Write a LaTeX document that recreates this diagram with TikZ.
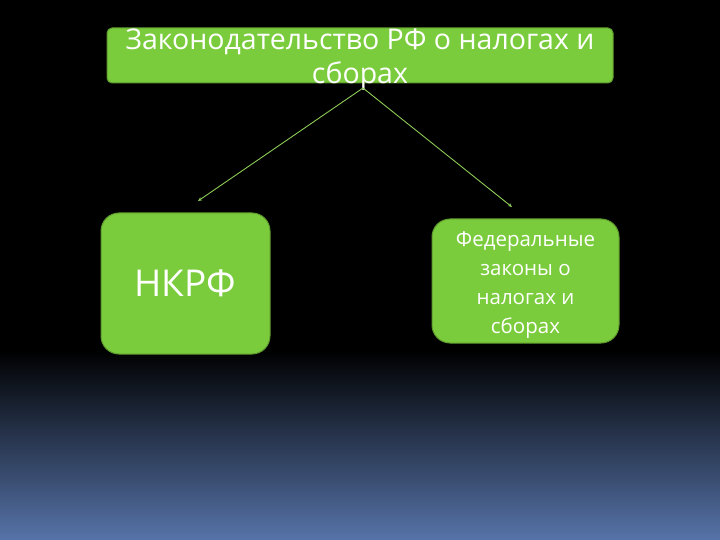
\documentclass[tikz,border=0pt]{standalone}
\usepackage{fontspec}
\setmainfont{Open Sans}
\usetikzlibrary{arrows.meta}
\definecolor{boxfill}{HTML}{7ACC3C}
\definecolor{boxline}{HTML}{5E9A2E}
\definecolor{linkc}{HTML}{8CCB55}
\definecolor{bottomblue}{HTML}{5673A8}
\tikzset{
  greenbox/.style={draw=boxline, line width=1pt, fill=boxfill, text=white, align=center, inner sep=0pt},
  link/.style={draw=linkc, line width=0.9pt, -{Stealth[length=4pt,width=3.5pt]}}
}
\begin{document}
\begin{tikzpicture}[x=1pt,y=-1pt]
\useasboundingbox (0,0) rectangle (720,540);
\fill[black] (0,0) rectangle (720,540);
\shade[top color=black, bottom color=bottomblue] (0,350) rectangle (720,540);
\node[greenbox, rounded corners=5pt, minimum width=506pt, minimum height=55pt] (top) at (360,55.5) {};
\node[text=white, font=\fontsize{28.5}{34}\selectfont, align=center, inner sep=0pt] (toptext) at (360,59.5) {Законодательство РФ о налогах и\\сборах};
\node[greenbox, rounded corners=18pt, minimum width=169pt, minimum height=141pt] (nk) at (185.5,283.5) {\fontsize{37}{40}\selectfont НКРФ};
\node[greenbox, rounded corners=18pt, minimum width=187pt, minimum height=124pt] (fz) at (525.5,281) {};
\node[text=white, font=\fontsize{20.5}{28.8}\selectfont, align=center, inner sep=0pt] (fztext) at (525.5,285) {Федеральные\\законы о\\налогах и\\сборах};
\coordinate (src) at (363,88);
\coordinate (e1) at (198,201);
\coordinate (e2) at (512,207);
\draw[link] (src) -- (e1);
\draw[link] (src) -- (e2);
\end{tikzpicture}
\end{document}
